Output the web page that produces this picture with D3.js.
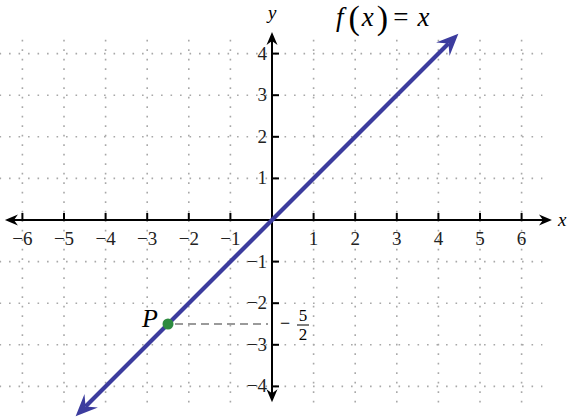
<!DOCTYPE html>
<html><head><meta charset="utf-8">
<script src="https://cdn.jsdelivr.net/npm/d3@7"></script>
<style>body{margin:0;background:#fff}svg{display:block}svg text{font-family:"Liberation Serif",serif}</style>
</head><body>
<svg id="c" width="569" height="420"></svg>
<script>
// ---- data ----
const xTicks = [-6,-5,-4,-3,-2,-1,1,2,3,4,5,6];
const yTicks = [-4,-3,-2,-1,1,2,3,4];
const gridX = [-6,-5,-4,-3,-2,-1,1,2,3,4,5,6];
const gridY = [-4,-3,-2,-1,1,2,3,4];
const lineX = [-4.72, 4.48];          // f(x)=x drawn between these x values
const pointP = [-2.5, -2.5];
const pointLabel = "P";
const fracNum = "5", fracDen = "2";

// ---- scales ----
const unit = 41.6;
const x = d3.scaleLinear().domain([0,1]).range([272, 272+unit]);
const y = d3.scaleLinear().domain([0,1]).range([220, 220-unit]);
const xExtent = [-6.42, 6.73];   // axis arrow tips
const yExtent = [-4.38, 4.52];
const gridXExt = [-6.55, 6.5];
const gridYExt = [-4.4, 4.33];

const svg = d3.select("#c");
const serif = "Liberation Serif";
const minus = v => v < 0 ? "\u2212" + Math.abs(v) : String(v);

// grid
const g = svg.append("g").attr("stroke","#a8a8a8").attr("stroke-width",1.6);
g.selectAll("line.h").data(gridY).join("line").attr("class","h")
  .attr("x1",x(gridXExt[0])).attr("x2",x(gridXExt[1]))
  .attr("y1",d=>y(d)).attr("y2",d=>y(d)).attr("stroke-dasharray","1.6,7.9");
g.selectAll("line.v").data(gridX).join("line").attr("class","v")
  .attr("y1",y(gridYExt[1])).attr("y2",y(gridYExt[0]))
  .attr("x1",d=>x(d)).attr("x2",d=>x(d)).attr("stroke-dasharray","1.6,7.9");

// axes
const ax = svg.append("g");
ax.append("line").attr("x1",x(xExtent[0])+6).attr("x2",x(xExtent[1])-6)
  .attr("y1",y(0)).attr("y2",y(0)).attr("stroke","#000").attr("stroke-width",2);
ax.append("line").attr("y1",y(yExtent[1])+6).attr("y2",y(yExtent[0])-6)
  .attr("x1",x(0)).attr("x2",x(0)).attr("stroke","#000").attr("stroke-width",2);

function arrow(parent, tx, ty, angle, len, half, notch, fill){
  parent.append("path")
    .attr("d",`M0,0 L${-len},${-half} L${-notch},0 L${-len},${half} Z`)
    .attr("transform",`translate(${tx},${ty}) rotate(${angle})`)
    .attr("fill",fill);
}
arrow(ax, x(xExtent[1]), y(0), 0, 13, 5.5, 9, "#000");
arrow(ax, x(xExtent[0]), y(0), 180, 13, 5.5, 9, "#000");
arrow(ax, x(0), y(yExtent[1]), -90, 13, 5.5, 9, "#000");
arrow(ax, x(0), y(yExtent[0]), 90, 13, 5.5, 9, "#000");

// ticks
ax.selectAll("line.xt").data(xTicks).join("line").attr("class","xt")
  .attr("x1",d=>x(d)).attr("x2",d=>x(d)).attr("y1",y(0)).attr("y2",y(0)-7)
  .attr("stroke","#000").attr("stroke-width",2);
ax.selectAll("line.yt").data(yTicks).join("line").attr("class","yt")
  .attr("y1",d=>y(d)).attr("y2",d=>y(d)).attr("x1",x(0)).attr("x2",x(0)+7)
  .attr("stroke","#000").attr("stroke-width",2);

// tick labels
ax.selectAll("text.xl").data(xTicks).join("text").attr("class","xl")
  .attr("x",d=>x(d)).attr("y",y(0)+25).attr("text-anchor","middle")
  .style("font-family",serif).attr("font-size",19).attr("fill","#222")
  .text(minus);
ax.selectAll("text.yl").data(yTicks).join("text").attr("class","yl")
  .attr("x",x(0)-5).attr("y",d=>y(d)+6).attr("text-anchor","end")
  .style("font-family",serif).attr("font-size",19).attr("fill","#222")
  .text(minus);

// axis labels
svg.append("text").attr("x",x(xExtent[1])+6).attr("y",y(0)+6)
  .style("font-family",serif).attr("font-style","italic").attr("font-size",19).text("x");
svg.append("text").attr("x",x(0)-4).attr("y",y(yExtent[1])-13)
  .style("font-family",serif).attr("font-style","italic").attr("font-size",19).text("y");

// function line
const blue = "#3c3c9e";
const x0 = lineX[0], x1 = lineX[1];
const ang = Math.atan2(y(x1)-y(x0), x(x1)-x(x0))*180/Math.PI;
const rad = ang*Math.PI/180;
svg.append("line")
  .attr("x1",x(x0)+Math.cos(rad)*14).attr("y1",y(x0)+Math.sin(rad)*14)
  .attr("x2",x(x1)-Math.cos(rad)*14).attr("y2",y(x1)-Math.sin(rad)*14)
  .attr("stroke",blue).attr("stroke-width",4.2);
arrow(svg, x(x1), y(x1), ang, 22, 9.5, 14, blue);
arrow(svg, x(x0), y(x0), ang+180, 22, 9.5, 14, blue);

// dashed helper line
svg.append("line").attr("x1",x(pointP[0])+7).attr("x2",x(0)-4)
  .attr("y1",y(pointP[1])).attr("y2",y(pointP[1]))
  .attr("stroke","#9a9a9a").attr("stroke-width",2).attr("stroke-dasharray","8,5");

// point
svg.append("circle").attr("cx",x(pointP[0])).attr("cy",y(pointP[1])).attr("r",5.5)
  .attr("fill","#2e8b40");
svg.append("text").attr("x",x(pointP[0])-26).attr("y",y(pointP[1])+3)
  .style("font-family",serif).attr("font-style","italic").attr("font-size",26).text(pointLabel);

// fraction -5/2
const fx = x(0)+8, fy = y(pointP[1]);
svg.append("text").attr("x",fx).attr("y",fy+5).style("font-family",serif).attr("font-size",18).text("\u2212");
svg.append("text").attr("x",fx+23).attr("y",fy-3).attr("text-anchor","middle")
  .style("font-family",serif).attr("font-size",17).text(fracNum);
svg.append("line").attr("x1",fx+17).attr("x2",fx+29).attr("y1",fy+1).attr("y2",fy+1)
  .attr("stroke","#000").attr("stroke-width",1);
svg.append("text").attr("x",fx+23).attr("y",fy+16).attr("text-anchor","middle")
  .style("font-family",serif).attr("font-size",17).text(fracDen);

// title f(x) = x
const t = svg.append("text").attr("x",336).attr("y",26).style("font-family",serif).attr("font-size",27);
t.append("tspan").attr("font-style","italic").text("f");
t.append("tspan").attr("dx",5).attr("font-size",34).attr("dy",3).text("(");
t.append("tspan").attr("font-style","italic").attr("dy",-3).attr("dx",2).text("x");
t.append("tspan").attr("font-size",34).attr("dy",3).attr("dx",3).text(")");
t.append("tspan").attr("dy",-3).attr("dx",5).text("=");
t.append("tspan").attr("font-style","italic").attr("dx",9).text("x");
</script>
</body></html>
